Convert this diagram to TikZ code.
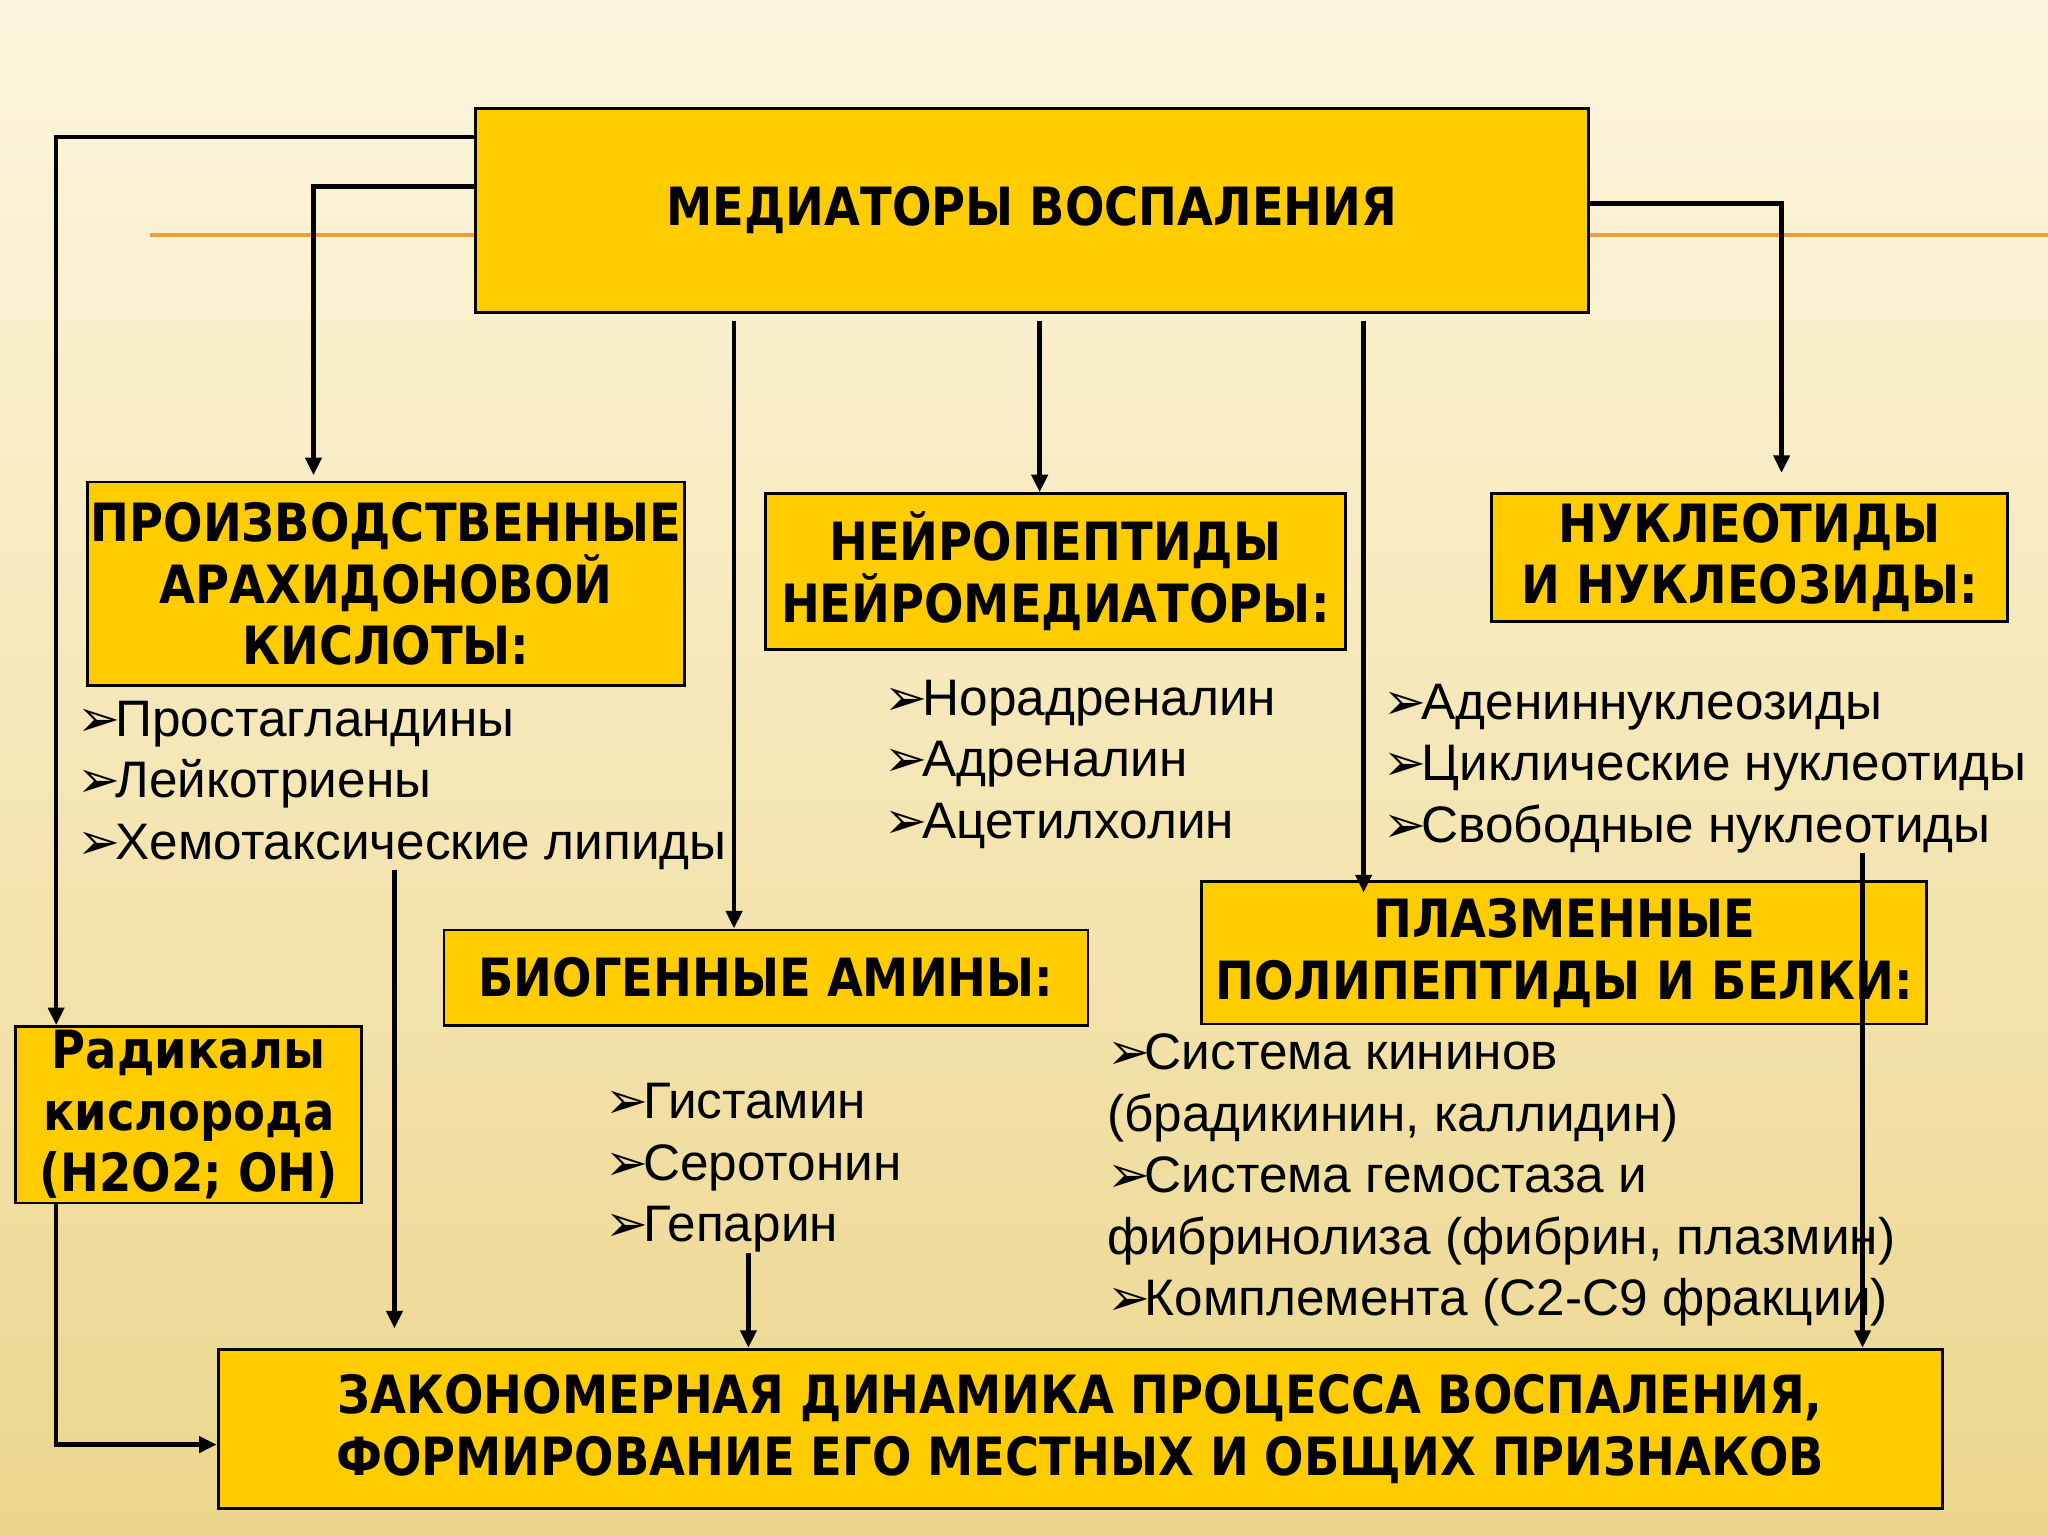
\documentclass[tikz,border=0pt]{standalone}
\usepackage{fontspec}
\setmainfont{Liberation Sans}
\newfontfamily\hdfont{DejaVu Sans}[FakeStretch=0.88]
\newfontfamily\symfont{DejaVu Sans}
\usetikzlibrary{arrows.meta}
\definecolor{gold}{RGB}{255,204,0}
\definecolor{bgtop}{RGB}{253,246,222}
\definecolor{bgmid}{RGB}{247,233,186}
\definecolor{bgbot}{RGB}{236,214,142}
\definecolor{rulecol}{RGB}{240,160,50}
\newcommand\unitpx{0.37162pt}
\newcommand\bul{{\symfont ➢}\kern-1.5pt}
\tikzset{
  box/.style={draw=black, line width=0.8pt, fill=gold, align=center, inner sep=0pt,
    font=\hdfont\bfseries\fontsize{15}{17.5}\selectfont},
  items/.style={align=left, anchor=north west, inner sep=0pt,
    font=\fontsize{14.6}{17.5}\selectfont},
  link/.style={line width=1.3pt, -{Triangle[length=5pt,width=4.5pt]}},
}
\begin{document}
\begin{tikzpicture}[x=0.37162pt,y=-0.37162pt]
  \shade[top color=bgtop, middle color=bgmid, bottom color=bgbot] (0,0) rectangle (1568,1176);
  \useasboundingbox (0,0) rectangle (1568,1176);
  \draw[rulecol, line width=1.2pt] (115,180) -- (1568,180);
  % boxes
  \node[box, minimum width=852*\unitpx, minimum height=156*\unitpx] (main) at (790,161) {МЕДИАТОРЫ ВОСПАЛЕНИЯ};
  \node[box, minimum width=457*\unitpx, minimum height=156*\unitpx] (arach) at (295.5,447) {ПРОИЗВОДСТВЕННЫЕ\\АРАХИДОНОВОЙ\\КИСЛОТЫ:};
  \node[box, minimum width=444*\unitpx, minimum height=119*\unitpx] (neuro) at (808,437.5) {НЕЙРОПЕПТИДЫ\\НЕЙРОМЕДИАТОРЫ:};
  \node[box, minimum width=395*\unitpx, minimum height=98*\unitpx] (nucl) at (1339.5,427) {НУКЛЕОТИДЫ\\И НУКЛЕОЗИДЫ:};
  \node[box, minimum width=493*\unitpx, minimum height=73*\unitpx] (amines) at (586.5,748.5) {БИОГЕННЫЕ АМИНЫ:};
  \node[box, minimum width=555*\unitpx, minimum height=109*\unitpx] (plasma) at (1197.5,729.5) {ПЛАЗМЕННЫЕ\\ПОЛИПЕПТИДЫ И БЕЛКИ:};
  \node[box, minimum width=265*\unitpx, minimum height=135*\unitpx] (rad) at (144.5,853.5) {Радикалы\\кислорода\\(Н2О2; ОН)};
  \node[box, minimum width=1320*\unitpx, minimum height=122*\unitpx] (final) at (827,1094) {ЗАКОНОМЕРНАЯ ДИНАМИКА ПРОЦЕССА ВОСПАЛЕНИЯ,\\ФОРМИРОВАНИЕ ЕГО МЕСТНЫХ И ОБЩИХ ПРИЗНАКОВ};
  % lists
  \node[items] (alist) at (59,536) {\bul Простагландины\\\bul Лейкотриены\\\bul Хемотаксические липиды};
  \node[items] (nlist) at (677,520) {\bul Норадреналин\\\bul Адреналин\\\bul Ацетилхолин};
  \node[items] (klist) at (1059,523) {\bul Адениннуклеозиды\\\bul Циклические нуклеотиды\\\bul Свободные нуклеотиды};
  \node[items] (blist) at (463,829) {\bul Гистамин\\\bul Серотонин\\\bul Гепарин};
  \node[items] (plist) at (847,791) {\bul Система кининов\\(брадикинин, каллидин)\\\bul Система гемостаза и\\фибринолиза (фибрин, плазмин)\\\bul Комплемента (С2-С9 фракции)};
  % connectors
  \coordinate (ra) at (43,105);
  \coordinate (rb) at (240,143);
  \coordinate (rc) at (562,0);
  \coordinate (rd) at (796,0);
  \coordinate (re) at (1044,0);
  \coordinate (rf) at (1364,156);
  \coordinate (rg) at (1426,0);
  \coordinate (rh) at (302,0);
  \coordinate (ri) at (573,0);
  \coordinate (rj) at (43,1106);
  \draw[link] (main.west |- ra) -- (ra) -- (ra |- rad.north);
  \draw[link, shorten >=1.5pt] (main.west |- rb) -- (rb) -- (rb |- arach.north);
  \draw[link, shorten <=2pt] (main.south -| rc) -- (rc |- amines.north);
  \draw[link, shorten <=2pt] (main.south -| rd) -- (rd |- neuro.north);
  \draw[link, shorten <=2pt, shorten >=-3.5pt] (main.south -| re) -- (re |- plasma.north);
  \draw[link, shorten >=5.5pt] (main.east |- rf) -- (rf) -- (rf |- nucl.north);
  \draw[link] (klist.south -| rg) -- (rg |- final.north);
  \draw[link, shorten >=5.5pt] (alist.south -| rh) -- (rh |- final.north);
  \draw[link] (blist.south -| ri) -- (ri |- final.north);
  \draw[link] (rad.south -| rj) -- (rj) -- (final.west |- rj);
\end{tikzpicture}
\end{document}
